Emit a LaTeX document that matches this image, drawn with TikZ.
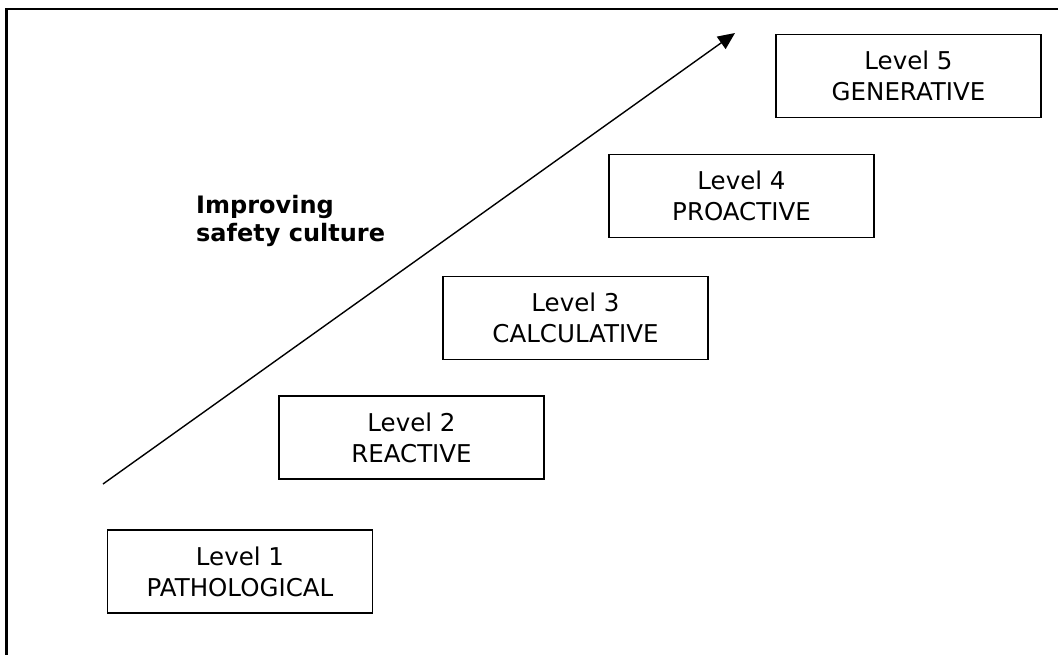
\documentclass[tikz,border=0pt]{standalone}
\usepackage{fontspec}
\setmainfont{DejaVu Sans}
\usetikzlibrary{arrows.meta}
\tikzset{
  levelbox/.style={draw, line width=1.8pt, minimum width=265pt, minimum height=83pt,
    align=center, inner sep=0pt, font=\fontsize{24.5}{31}\selectfont},
  framedge/.style={line width=2.7pt},
  trend/.style={line width=1.4pt, -{Triangle[length=17pt,width=15pt]}},
  caption/.style={anchor=north west, align=left, inner sep=0pt,
    font=\fontsize{24}{28}\selectfont\bfseries}
}
\begin{document}
\begin{tikzpicture}[x=1pt,y=-1pt]
\useasboundingbox (0,0) rectangle (1058,654);
\coordinate (fbl) at (6.7,660);
\coordinate (ftl) at (6.7,9);
\coordinate (ftr) at (1064,9);
\draw[framedge] (fbl) -- (ftl) -- (ftr);
\node[levelbox] (l1) at (240,571.5) {Level 1\\PATHOLOGICAL};
\node[levelbox] (l2) at (411.5,437.5) {Level 2\\REACTIVE};
\node[levelbox] (l3) at (575.5,318) {Level 3\\CALCULATIVE};
\node[levelbox] (l4) at (741.5,196) {Level 4\\PROACTIVE};
\node[levelbox] (l5) at (908.5,76) {Level 5\\GENERATIVE};
\coordinate (as) at (103,484);
\coordinate (ae) at (735,33);
\draw[trend] (as) -- (ae);
\node[caption] (cap) at (196,195) {Improving\\safety culture};
\end{tikzpicture}
\end{document}
